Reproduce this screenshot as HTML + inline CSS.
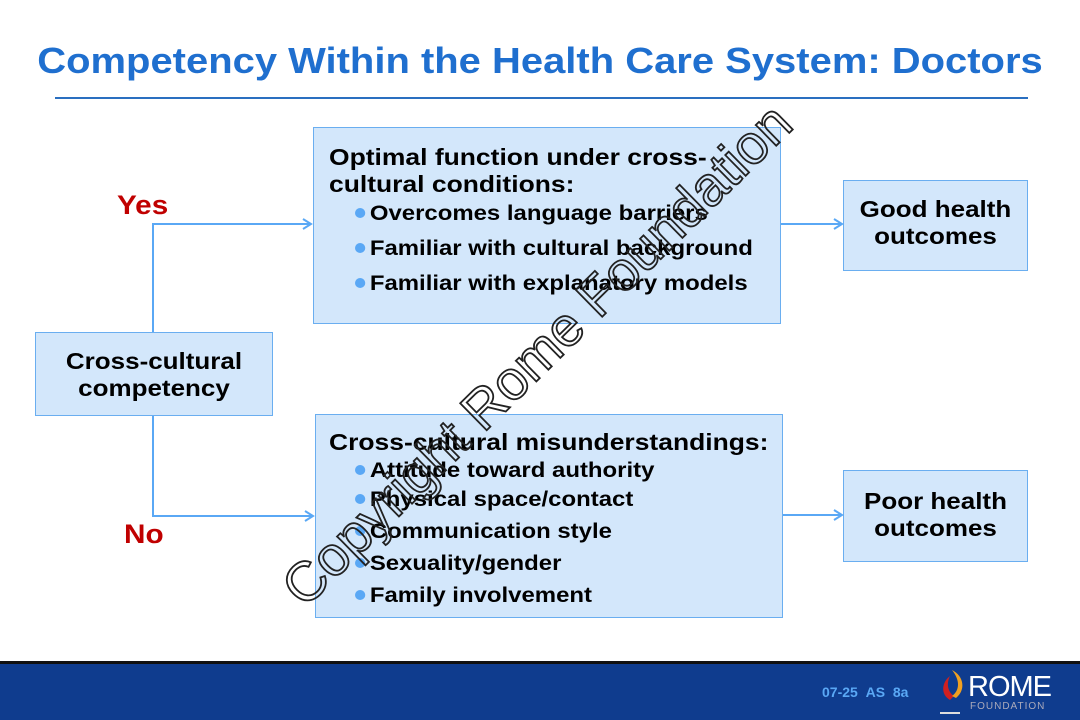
<!DOCTYPE html>
<html><head><meta charset="utf-8"><style>
body{margin:0;width:1080px;height:720px;background:#fff;position:relative;overflow:hidden;font-family:"Liberation Sans",Arial,sans-serif;font-weight:bold}
.a{position:absolute}
.box{position:absolute;background:#d3e7fb;border:1.5px solid #6aaef0;box-sizing:border-box}
.t{position:absolute;font-size:23px;color:#000;line-height:27px;white-space:nowrap;transform:scaleX(1.15);transform-origin:0 0}
.b{position:absolute;font-size:21px;white-space:nowrap;color:#000;transform:scaleX(1.14);transform-origin:0 0}
.b:before{content:"";display:inline-block;width:9px;height:10px;border-radius:50%;background:#5aa8f5;margin-right:4px;vertical-align:2px}
.c{position:absolute;font-size:23px;line-height:27px;text-align:center;transform:scaleX(1.13)}
</style></head><body>
<div class="a" style="left:0;width:1080px;top:40px;text-align:center;font-size:36px;color:#1f6fcf;transform:scaleX(1.11)">Competency Within the Health Care System: Doctors</div>
<div class="a" style="left:55px;top:97px;width:973px;height:2px;background:#2a6fc0"></div>

<div class="box" style="left:313px;top:127px;width:468px;height:197px"></div>
<div class="t" style="left:329px;top:144px">Optimal function under cross-<br>cultural conditions:</div>
<div class="b" style="left:355px;top:202px">Overcomes language barriers</div>
<div class="b" style="left:355px;top:237px">Familiar with cultural background</div>
<div class="b" style="left:355px;top:272px">Familiar with explanatory models</div>

<div class="box" style="left:315px;top:414px;width:468px;height:204px"></div>
<div class="t" style="left:329px;top:429px">Cross-cultural misunderstandings:</div>
<div class="b" style="left:355px;top:459px">Attitude toward authority</div>
<div class="b" style="left:355px;top:488px">Physical space/contact</div>
<div class="b" style="left:355px;top:520px">Communication style</div>
<div class="b" style="left:355px;top:552px">Sexuality/gender</div>
<div class="b" style="left:355px;top:584px">Family involvement</div>

<div class="box" style="left:35px;top:332px;width:238px;height:84px"></div>
<div class="c" style="left:35px;top:348px;width:238px">Cross-cultural<br>competency</div>
<div class="box" style="left:843px;top:180px;width:185px;height:91px"></div>
<div class="c" style="left:843px;top:196px;width:185px">Good health<br>outcomes</div>
<div class="box" style="left:843px;top:470px;width:185px;height:92px"></div>
<div class="c" style="left:843px;top:488px;width:185px">Poor health<br>outcomes</div>

<div class="a" style="left:117px;top:190px;font-size:27px;color:#c00000;transform:scaleX(1.1);transform-origin:0 0">Yes</div>
<div class="a" style="left:124px;top:519px;font-size:27px;color:#c00000;transform:scaleX(1.1);transform-origin:0 0">No</div>

<svg class="a" style="left:0;top:0" width="1080" height="720">
<g stroke="#5aa8f5" stroke-width="2" fill="none">
<polyline points="153,332 153,224 310,224"/><polyline points="303,219 311,224 303,229"/>
<polyline points="153,416 153,516 312,516"/><polyline points="305,511 313,516 305,521"/>
<line x1="781" y1="224" x2="841" y2="224"/><polyline points="834,219 842,224 834,229"/>
<line x1="783" y1="515" x2="841" y2="515"/><polyline points="834,510 842,515 834,520"/>
</g>
<text x="0" y="0" transform="translate(550,368) rotate(-44.5)" text-anchor="middle" font-family="Liberation Sans,sans-serif" font-size="55" fill="none" stroke="#222" stroke-width="1.8" font-weight="normal">Copyright Rome Foundation</text>
</svg>

<div class="a" style="left:0;top:661px;width:1080px;height:3px;background:#111"></div>
<div class="a" style="left:0;top:664px;width:1080px;height:56px;background:#0f3c8e"></div>
<div class="a" style="left:822px;top:684px;font-size:14px;color:#5aa8f5">07-25&nbsp;&nbsp;AS&nbsp;&nbsp;8a</div>
<svg class="a" style="left:936px;top:668px" width="40" height="50">
<path d="M14 32 C4 26 6 14 14 8 C10 16 12 24 18 28 Z" fill="#d02020"/>
<path d="M16 28 C24 22 24 12 16 2 C28 8 30 22 20 30 Z" fill="#f0a020"/>
<rect x="4" y="44" width="20" height="2" fill="#ddd"/>
</svg>
<div class="a" style="left:968px;top:671px;font-size:29px;color:#fff;font-weight:normal;letter-spacing:-1px">ROME</div>
<div class="a" style="left:970px;top:701px;font-size:10px;color:#aab;font-weight:normal;letter-spacing:1px">FOUNDATION</div>
</body></html>
